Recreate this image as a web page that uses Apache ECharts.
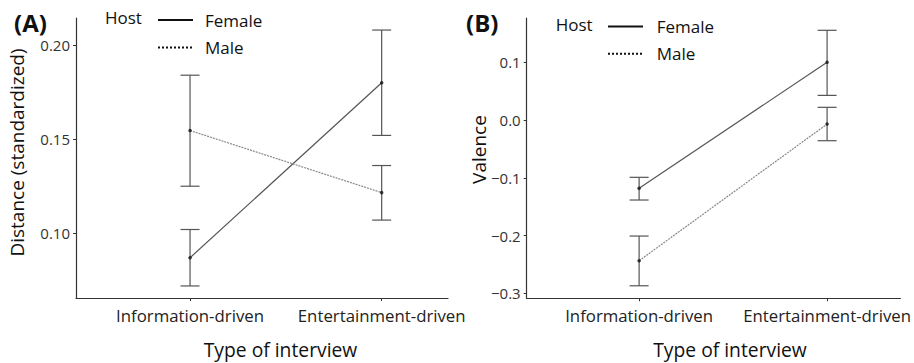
<!DOCTYPE html>
<html>
<head>
<meta charset="utf-8">
<script src="https://cdn.jsdelivr.net/npm/echarts@6/dist/echarts.min.js"></script>
<style>
html,body{margin:0;padding:0;background:#fff;}
#c{width:914px;height:363px;}
</style>
</head>
<body>
<div id="c"></div>
<script>
// ---- data ----
const categories = ['Information-driven', 'Entertainment-driven'];
const xPos = [1, 2];

const distFemaleMean = [0.087, 0.180];
const distFemaleLo   = [0.072, 0.152];
const distFemaleHi   = [0.102, 0.208];
const distMaleMean   = [0.1546, 0.1216];
const distMaleLo     = [0.125, 0.107];
const distMaleHi     = [0.184, 0.136];

const valFemaleMean = [-0.118, 0.100];
const valFemaleLo   = [-0.1385, 0.0427];
const valFemaleHi   = [-0.0992, 0.1554];
const valMaleMean   = [-0.2436, -0.007];
const valMaleLo     = [-0.287, -0.0358];
const valMaleHi     = [-0.2009, 0.022];

const distTicks = [0.10, 0.15, 0.20];
const valTicks = [-0.3, -0.2, -0.1, 0.0, 0.1];

// ---- build ----
const FONT = '"Open Sans", "DejaVu Sans", sans-serif';
const pts = (m) => xPos.map((x, i) => [x, m[i]]);
const bars = (lo, hi) => xPos.map((x, i) => [x, lo[i], hi[i]]);

function errRender(params, api) {
  const x = api.value(0);
  const a = api.coord([x, api.value(1)]);
  const b = api.coord([x, api.value(2)]);
  const w = 9.5;
  const st = { stroke: '#555', lineWidth: 1.2 };
  return {
    type: 'group',
    children: [
      { type: 'line', shape: { x1: a[0], y1: a[1], x2: b[0], y2: b[1] }, style: st },
      { type: 'line', shape: { x1: a[0] - w, y1: a[1], x2: a[0] + w, y2: a[1] }, style: st },
      { type: 'line', shape: { x1: b[0] - w, y1: b[1], x2: b[0] + w, y2: b[1] }, style: st }
    ]
  };
}

const axisLine = { show: true, onZero: false, lineStyle: { color: '#333', width: 1.2 } };
const axisTick = { show: true, length: 3, lineStyle: { color: '#333', width: 1 } };
const tickLabel = { color: '#333', fontSize: 15, fontFamily: FONT };

function xAx(idx, min, max) {
  return {
    type: 'value', gridIndex: idx, min: min, max: max,
    axisLine: axisLine,
    axisTick: Object.assign({ customValues: xPos }, axisTick),
    axisLabel: { customValues: xPos, margin: 9, fontSize: 16.8, color: '#222', fontFamily: FONT,
      formatter: v => categories[Math.round(v) - 1] || '' },
    splitLine: { show: false }
  };
}
function yAx(idx, min, max, ticks, dec) {
  return {
    type: 'value', gridIndex: idx, min: min, max: max,
    axisLine: axisLine,
    axisTick: Object.assign({ customValues: ticks }, axisTick),
    axisLabel: Object.assign({ customValues: ticks, margin: 6,
      formatter: v => (v < 0 ? '\u2212' : '') + Math.abs(v).toFixed(dec) }, tickLabel),
    splitLine: { show: false }
  };
}

function panelSeries(idx, fm, fl, fh, mm, ml, mh) {
  return [
    { name: 'Female', type: 'line', xAxisIndex: idx, yAxisIndex: idx, data: pts(fm), symbol: 'none',
      color: '#555', lineStyle: { color: '#555', width: 1.2, type: 'solid' }, z: 3, silent: true },
    { name: 'Male', type: 'line', xAxisIndex: idx, yAxisIndex: idx, data: pts(mm), symbol: 'none',
      color: '#888', lineStyle: { color: '#888', width: 1.2, type: [2, 1] }, z: 3, silent: true },
    { name: 'errF' + idx, type: 'custom', xAxisIndex: idx, yAxisIndex: idx, data: bars(fl, fh),
      renderItem: errRender, z: 2, silent: true },
    { name: 'errM' + idx, type: 'custom', xAxisIndex: idx, yAxisIndex: idx, data: bars(ml, mh),
      renderItem: errRender, z: 2, silent: true },
    { name: 'ptsF' + idx, type: 'scatter', xAxisIndex: idx, yAxisIndex: idx, data: pts(fm),
      symbolSize: 3.5, itemStyle: { color: '#111' }, z: 4, silent: true },
    { name: 'ptsM' + idx, type: 'scatter', xAxisIndex: idx, yAxisIndex: idx, data: pts(mm),
      symbolSize: 3.5, itemStyle: { color: '#111' }, z: 4, silent: true }
  ];
}

function legend(left, top, gap, pad) {
  return {
    data: [
      { name: 'Female', lineStyle: { type: 'solid', width: 2, color: '#111' } },
      { name: 'Male', lineStyle: { type: [2, 2], width: 2, color: '#111' } }
    ],
    orient: 'vertical', left: left, top: top, padding: 0,
    itemWidth: 35, itemHeight: 14, itemGap: gap, selectedMode: false,
    itemStyle: { color: 'rgba(0,0,0,0)', borderColor: 'rgba(0,0,0,0)', borderWidth: 0, opacity: 0 },
    lineStyle: { color: '#111', width: 2, opacity: 1 },
    textStyle: { fontSize: 17, fontFamily: FONT, color: '#111', padding: [0, 0, 0, pad] }
  };
}

function txt(x, y, s, size, opts) {
  return Object.assign({
    type: 'text', x: x, y: y, silent: true,
    style: { text: s, font: (opts && opts.bold ? 'bold ' : '') + size + 'px ' + FONT, fill: '#111',
      align: (opts && opts.align) || 'left', verticalAlign: 'middle' }
  }, opts && opts.rot ? { rotation: Math.PI / 2 } : {});
}

const chart = echarts.init(document.getElementById('c'), null, { renderer: 'svg' });
chart.setOption({
  animation: false,
  backgroundColor: '#fff',
  grid: [
    { left: 76, top: 18, width: 372, height: 280 },
    { left: 526.7, top: 18, width: 382.3, height: 280.3 }
  ],
  xAxis: [xAx(0, 0.405, 2.346), xAx(1, 0.402, 2.39)],
  yAxis: [yAx(0, 0.0656, 0.2144, distTicks, 2), yAx(1, -0.3087, 0.1767, valTicks, 1)],
  legend: [legend(157, 11.5, 10.5, 7), legend(607, 18, 10.3, 8.7)],
  graphic: [
    txt(14, 22, '(A)', 24, { bold: true }),
    txt(466, 22, '(B)', 24, { bold: true }),
    txt(105, 17.5, 'Host', 17),
    txt(555.7, 24.5, 'Host', 17),
    txt(280.5, 349, 'Type of interview', 19.3, { align: 'center' }),
    txt(730, 349, 'Type of interview', 19.3, { align: 'center' }),
    txt(16.7, 152.5, 'Distance (standardized)', 19, { align: 'center', rot: true }),
    txt(479, 149.5, 'Valence', 19, { align: 'center', rot: true })
  ],
  series: [].concat(
    panelSeries(0, distFemaleMean, distFemaleLo, distFemaleHi, distMaleMean, distMaleLo, distMaleHi),
    panelSeries(1, valFemaleMean, valFemaleLo, valFemaleHi, valMaleMean, valMaleLo, valMaleHi)
  )
});
</script>
</body>
</html>
